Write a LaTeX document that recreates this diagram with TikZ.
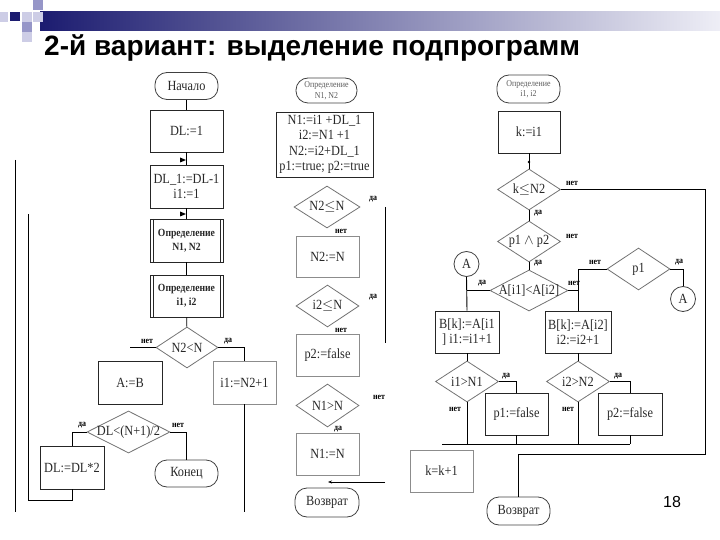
\documentclass[tikz,border=0pt]{standalone}
\usepackage{fontspec}
\setmainfont{Liberation Serif}[FakeStretch=0.88]
\newfontfamily\titlefont{Liberation Sans}
\usetikzlibrary{shapes.geometric,arrows.meta}
\definecolor{navy}{RGB}{28,28,112}
\definecolor{lav}{RGB}{150,150,200}
\definecolor{lavl}{RGB}{205,205,230}
\definecolor{barend}{RGB}{238,238,246}
\definecolor{txt}{RGB}{40,40,40}
\begin{document}
\begin{tikzpicture}[x=1pt,y=-1pt,
  base/.style={font=\fontsize{14}{15.5}\selectfont, text=txt, inner sep=0pt, align=center},
  box/.style={base, draw=black!85, line width=0.8pt},
  gbox/.style={base, draw=black!45, line width=0.8pt},
  pre/.style={box, path picture={\draw[line width=0.7pt] ([xshift=3pt]path picture bounding box.north west) -- ([xshift=3pt]path picture bounding box.south west) ([xshift=-3pt]path picture bounding box.north east) -- ([xshift=-3pt]path picture bounding box.south east);}},
  term/.style={base, draw=black!75, line width=0.8pt, rounded corners=12pt},
  small/.style={font=\fontsize{9}{11}\selectfont, text=black!65},
  dia/.style={diamond, draw=black!55, line width=0.8pt, inner sep=0pt, label={[base]center:#1}},
  circ/.style={base, circle, draw=black!75, line width=0.8pt, minimum size=25pt},
  lbl/.style={font=\fontsize{9}{9}\selectfont\bfseries, inner sep=0pt, text=black},
  ln/.style={line width=0.9pt, draw=black}
]
\useasboundingbox (0,0) rectangle (720,540);
% header
\shade[left color=navy, right color=barend] (40,12) rectangle (720,31);
\fill[lavl] (0,12) rectangle (8,22);
\fill[navy] (10,12) rectangle (20,21);
\fill[lavl] (22,12) rectangle (32,22);
\fill[lav] (33,0) rectangle (43,10);
\fill[lavl] (33,12) rectangle (43,22);
\fill[lav] (22,22) rectangle (32,32);
\fill[lavl] (22,32) rectangle (32,42);
\node[anchor=base west, font=\titlefont\bfseries\fontsize{28}{32}\selectfont, inner sep=0pt] (title) at (44,56) {2-й вариант: выделение подпрограмм};

% ---------- left column ----------
\node[term, minimum width=63pt, minimum height=27pt] (start) at (186.5,86) {Начало};
\node[box, minimum width=73pt, minimum height=42pt] (dl) at (186.5,131) {DL:=1};
\node[box, minimum width=73pt, minimum height=43pt] (dl1) at (186.5,186.5) {DL\_1:=DL-1\\i1:=1};
\node[pre, minimum width=73pt, minimum height=43pt, font=\fontsize{11}{14}\selectfont\bfseries] (defN) at (186.5,240.5) {Определение\\N1, N2};
\node[pre, minimum width=73pt, minimum height=42pt, font=\fontsize{11}{14}\selectfont\bfseries] (defI) at (186.5,296) {Определение\\i1, i2};
\node[dia={N2<N}, minimum width=62pt, minimum height=41pt] (c1) at (187,347.5) {};
\node[box, minimum width=64pt, minimum height=43pt] (ab) at (130,382.5) {A:=B};
\node[gbox, minimum width=63pt, minimum height=43pt] (i1n) at (244.5,382.5) {i1:=N2+1};
\node[dia={DL<(N+1)/2}, minimum width=83pt, minimum height=42pt] (c2) at (128.5,432) {};
\node[box, minimum width=64pt, minimum height=43pt] (dl2) at (72,467.5) {DL:=DL*2};
\node[term, minimum width=63pt, minimum height=27pt] (end) at (186.5,473.5) {Конец};

\draw[ln] (start) -- (dl);
\draw[ln] (dl) -- (dl1);
\draw[ln] (dl1) -- (defN);
\draw[ln] (defN) -- (defI);
\draw[ln] (defI) -- (c1);
\coordinate (c1n) at (130,347.5);
\draw[ln] (c1.west) -- (c1n);
\draw[ln] (c1.east) -| (i1n.north);
\draw[ln] (c2.west) -| (dl2.north);
\draw[ln] (c2.east) -| (end.north);
\coordinate (L1top) at (15,160);
\coordinate (L1bot) at (15,512);
\draw[ln] (L1top) -- (L1bot);
\coordinate (L2top) at (28,214);
\coordinate (L2bot) at (28,500);
\draw[ln] (dl2.south) |- (L2bot) -- (L2top);
\coordinate (i1nEnd) at (244.5,512);
\draw[ln] (i1n.south) -- (i1nEnd);
\fill (180,157.5) -- (186,160) -- (180,162.5) -- cycle;
\fill (180,211.5) -- (186,214) -- (180,216.5) -- cycle;
\node[lbl] (l1) at (147,341) {нет};
\node[lbl] (l2) at (228,341) {да};
\node[lbl] (l3) at (82,425) {да};
\node[lbl] (l4) at (178,425) {нет};

% ---------- middle column ----------
\node[term, small, minimum width=61pt, minimum height=25pt, font=\fontsize{9}{10.5}\selectfont] (defN2) at (326.5,90.5) {Определение\\N1, N2};
\node[box, minimum width=97pt, minimum height=65pt] (init) at (324.5,144.5) {N1:=i1 +DL\_1\\i2:=N1 +1\\N2:=i2+DL\_1\\p1:=true; p2:=true};
\node[dia={N2$\leq$N}, minimum width=66pt, minimum height=42pt] (m1) at (327,207) {};
\node[gbox, minimum width=63pt, minimum height=41pt] (n2n) at (327.5,256.5) {N2:=N};
\node[dia={i2$\leq$N}, minimum width=63pt, minimum height=42pt] (m2) at (327.5,306) {};
\node[gbox, minimum width=63pt, minimum height=42pt] (p2f) at (327.5,355) {p2:=false};
\node[dia={N1>N}, minimum width=63pt, minimum height=43pt] (m3) at (327.5,405.5) {};
\node[gbox, minimum width=63pt, minimum height=42pt] (n1n) at (327.5,454) {N1:=N};
\node[term, minimum width=64pt, minimum height=29pt] (ret1) at (327,502.5) {Возврат};
\coordinate (mv1) at (385,207);
\coordinate (mv2) at (385,343);
\draw[ln] (mv1) -- (mv2);
\coordinate (ma) at (385,482);
\coordinate (mb) at (328,482);
\draw[ln, -{Stealth[length=4pt,width=3pt]}] (ma) -- (mb);
\node[lbl] (l5) at (373,199) {да};
\node[lbl] (l6) at (341,231) {нет};
\node[lbl] (l7) at (373,297) {да};
\node[lbl] (l8) at (341,330) {нет};
\node[lbl] (l9) at (379,397) {нет};
\node[lbl] (l10) at (338,429) {да};

% ---------- right column ----------
\node[term, small, minimum width=63pt, minimum height=28pt, font=\fontsize{9}{10.5}\selectfont] (defI2) at (528.5,89) {Определение\\i1, i2};
\node[box, minimum width=62pt, minimum height=42pt] (k) at (529,132) {k:=i1};
\node[dia={k$\leq$N2}, minimum width=63pt, minimum height=41pt] (r1) at (529,189.5) {};
\node[dia={p1 $\wedge$ p2}, minimum width=63pt, minimum height=41pt] (r2) at (529,241.5) {};
\node[dia={{A[i1]<A[i2]}}, minimum width=78pt, minimum height=41pt] (r3) at (529,290.5) {};
\node[circ] (A1) at (466.5,264) {A};
\node[dia={p1}, minimum width=63pt, minimum height=42pt] (r4) at (638.5,269) {};
\node[circ] (A2) at (683,299) {A};
\node[box, minimum width=64pt, minimum height=42pt] (b1) at (467,332) {B[k]:=A[i1\\] i1:=i1+1};
\node[box, minimum width=66pt, minimum height=42pt] (b2) at (578,332) {B[k]:=A[i2]\\i2:=i2+1};
\node[dia={i1>N1}, minimum width=63pt, minimum height=41pt] (r5) at (467,381.5) {};
\node[dia={i2>N2}, minimum width=63pt, minimum height=41pt] (r6) at (578,381.5) {};
\node[box, minimum width=63pt, minimum height=42pt] (p1f) at (516.5,414) {p1:=false};
\node[box, minimum width=64pt, minimum height=42pt] (p2f2) at (630,414) {p2:=false};
\node[gbox, minimum width=63pt, minimum height=42pt] (kk) at (441.5,471) {k=k+1};
\node[term, minimum width=63pt, minimum height=28pt] (ret2) at (518.5,511) {Возврат};

\draw[ln] (k) -- (r1);
\draw[ln] (r1) -- (r2);
\draw[ln] (r2) -- (r3);
\coordinate (rc1) at (705,454);
\draw[ln] (r1.east) -| (rc1) -| (ret2.north);
\draw[ln] (A1.south) -- (b1.north);
\draw[ln] (r3.west) -- (r3.west -| A1.south);
\draw[ln] (r3.east) -- (r3.east -| b2.north);
\draw[ln] (r4.west) -| (b2.north);
\draw[ln] (r4.east) -| (A2.north);
\draw[ln] (b1) -- (r5);
\draw[ln] (b2) -- (r6);
\draw[ln] (r5.east) -| (p1f.north);
\draw[ln] (r6.east) -| (p2f2.north);
\coordinate (bus1) at (442,444);
\coordinate (bus2) at (630,444);
\draw[ln] (bus1) -- (bus2);
\draw[ln] (r5.south) -- (r5.south |- bus1);
\draw[ln] (p1f.south) -- (p1f.south |- bus1);
\draw[ln] (r6.south) -- (r6.south |- bus1);
\draw[ln] (p2f2.south) -- (p2f2.south |- bus1);
\fill (529,162) circle (1.3);
\node[lbl] (l11) at (572,183) {нет};
\node[lbl] (l12) at (538,213) {да};
\node[lbl] (l13) at (572,236) {нет};
\node[lbl] (l14) at (538,263) {да};
\node[lbl] (l15) at (482,283) {да};
\node[lbl] (l16) at (574,283) {нет};
\node[lbl] (l17) at (595,262) {нет};
\node[lbl] (l18) at (679,262) {да};
\node[lbl] (l19) at (506,376) {да};
\node[lbl] (l20) at (455,409) {нет};
\node[lbl] (l21) at (618,376) {да};
\node[lbl] (l22) at (568,409) {нет};

\node[font=\titlefont\fontsize{16}{18}\selectfont, inner sep=0pt] (pg) at (672,502) {18};
\end{tikzpicture}
\end{document}
